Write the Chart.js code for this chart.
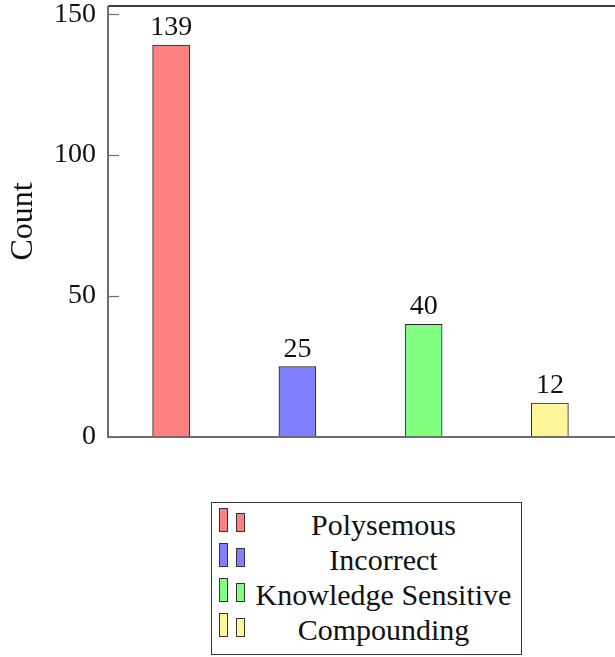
<!DOCTYPE html>
<html lang="en">
<head>
  <meta charset="UTF-8" />
  <title>Count by category</title>
  <script src="https://cdn.jsdelivr.net/npm/chart.js"></script>
  <style>
    body {
      margin: 0;
      background: #ffffff;
      font-family: 'Liberation Serif', serif;
      width: 615px;
      height: 657px;
      overflow: hidden;
      position: relative;
    }
    .chart-box {
      position: absolute;
      left: 0;
      top: 0;
      width: 615px;
      height: 480px;
    }
    .legend {
      position: absolute;
      left: 211px;
      top: 502px;
      width: 311px;
      height: 153px;
      border: 1px solid #333;
      padding-top: 4px;
      box-sizing: border-box;
    }
    .legend .row {
      position: relative;
      height: 35px;
      line-height: 35px;
      font-size: 30px;
      color: #111;
    }
    .legend .txt {
      position: absolute;
      left: 34px;
      right: 0;
      text-align: center;
      white-space: nowrap;
    }
    .legend .ic {
      position: absolute;
      width: 7px;
      border: 1px solid #333;
    }
  </style>
</head>
<body>
  <div class="chart-box">
    <canvas id="countChart" width="615" height="480"></canvas>
  </div>
  <div class="legend" id="legend"></div>

  <script>
    const categories = ['Polysemous', 'Incorrect', 'Knowledge Sensitive', 'Compounding'];
    const counts = [139, 25, 40, 12];
    const yTicks = [0, 50, 100, 150];
    const barColors = ['#ff8080', '#8080ff', '#80ff80', '#fff599'];

    const axisGray = '#6e6e6e';
    const serif = "'Liberation Serif', serif";

    // one dataset per category so each bar sits alone in its slot
    const datasets = categories.map((name, i) => ({
      label: name,
      data: categories.map((_, j) => (j === i ? counts[i] : null)),
      backgroundColor: barColors[i],
      borderColor: '#222',
      borderWidth: 1,
      borderSkipped: false,
      barThickness: 37,
      grouped: false
    }));

    // frame, inward ticks and value labels
    const decorations = {
      id: 'decorations',
      afterDatasetsDraw(chart) {
        const { ctx, chartArea, scales } = chart;
        const y = scales.y;
        ctx.save();
        ctx.strokeStyle = '#000';
        ctx.lineWidth = 1.5;
        ctx.beginPath();
        ctx.moveTo(chartArea.left, chartArea.top);
        ctx.lineTo(615, chartArea.top);
        ctx.stroke();

        ctx.strokeStyle = axisGray;
        ctx.lineWidth = 1.2;
        yTicks.forEach(v => {
          const py = Math.round(y.getPixelForValue(v)) + 0.5;
          ctx.beginPath();
          ctx.moveTo(chartArea.left, py);
          ctx.lineTo(chartArea.left + 11, py);
          ctx.stroke();
        });

        ctx.lineWidth = 2;
        ctx.beginPath();
        ctx.moveTo(chartArea.left, chartArea.top);
        ctx.lineTo(chartArea.left, chartArea.bottom);
        ctx.lineTo(615, chartArea.bottom);
        ctx.stroke();

        ctx.fillStyle = '#111';
        ctx.font = '28px ' + serif;
        ctx.textAlign = 'center';
        ctx.textBaseline = 'alphabetic';
        chart.data.datasets.forEach((ds, i) => {
          const bar = chart.getDatasetMeta(i).data[i];
          ctx.fillText(String(counts[i]), bar.x, bar.y - 10);
        });
        ctx.restore();
      }
    };

    const ctx = document.getElementById('countChart').getContext('2d');
    new Chart(ctx, {
      type: 'bar',
      data: { labels: categories, datasets },
      plugins: [decorations],
      options: {
        responsive: false,
        animation: false,
        devicePixelRatio: 1,
        layout: { padding: { top: 6, right: 2 } },
        plugins: {
          legend: { display: false },
          tooltip: { enabled: false }
        },
        scales: {
          x: {
            offset: true,
            grid: { display: false },
            border: { display: false },
            ticks: { display: false },
            afterFit: s => { s.height = 43; s.paddingLeft = 0; s.paddingRight = 0; }
          },
          y: {
            min: 0,
            max: 152.9,
            grid: { display: false },
            border: { display: false },
            afterBuildTicks: s => { s.ticks = yTicks.map(v => ({ value: v })); },
            ticks: {
              padding: 4,
              color: '#111',
              font: { family: serif, size: 28 }
            },
            title: {
              display: true,
              text: 'Count',
              color: '#111',
              padding: { top: 4, bottom: 0 },
              font: { family: serif, size: 32 }
            },
            afterFit: s => { s.width = 108; s.paddingTop = 0; s.paddingBottom = 0; }
          }
        }
      }
    });

    // legend with two small bar icons per entry
    const legend = document.getElementById('legend');
    categories.forEach((name, i) => {
      const row = document.createElement('div');
      row.className = 'row';
      row.innerHTML =
        `<span class="ic" style="left:7px;top:1px;height:22px;background:${barColors[i]}"></span>` +
        `<span class="ic" style="left:24px;top:6px;height:17px;background:${barColors[i]}"></span>` +
        `<span class="txt">${name}</span>`;
      legend.appendChild(row);
    });
  </script>
</body>
</html>
